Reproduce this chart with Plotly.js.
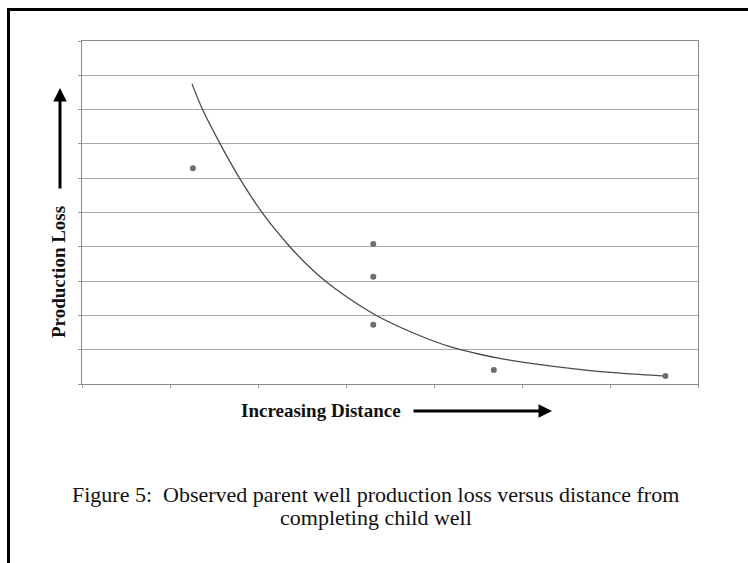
<!DOCTYPE html>
<html>
<head>
<meta charset="utf-8">
<script src="https://cdn.plot.ly/plotly-3.0.1.min.js"></script>
<style>
  html, body { margin: 0; padding: 0; background: #ffffff; }
  #wrap { position: relative; width: 748px; height: 563px; overflow: hidden; }
  #frame { position: absolute; left: 7px; top: 8px; width: 800px; height: 600px;
           border-left: 3px solid #000; border-top: 3px solid #000; pointer-events: none; }
  #chart { position: absolute; left: 0; top: 0; width: 748px; height: 563px; }
</style>
</head>
<body>
<div id="wrap">
  <div id="chart"></div>
  <div id="frame"></div>
</div>
<script>
// Observed points (distance units, production loss units)
const obsDistance = [1.26, 3.31, 3.31, 3.31, 4.68, 6.63];
const obsLoss     = [6.29, 4.08, 3.13, 1.73, 0.41, 0.23];

// Trend curve
const trendDistance = [1.25, 1.37, 1.57, 1.79, 2.06, 2.37, 2.63, 2.84, 3.33, 3.80, 4.19, 4.53, 4.76, 5.10, 5.67, 6.15, 6.63];
const trendLoss     = [8.75, 8.00, 7.00, 6.00, 4.95, 3.98, 3.30, 2.85, 2.02, 1.45, 1.08, 0.86, 0.74, 0.60, 0.42, 0.31, 0.23];

// Texts
const yTitle = "Production Loss";
const xTitle = "Increasing Distance";
const captionLine1 = "Figure 5:&nbsp; Observed parent well production loss versus distance from";
const captionLine2 = "completing child well";

const traces = [
  {
    x: trendDistance, y: trendLoss, type: "scatter", mode: "lines",
    line: { color: "#4a4a4a", width: 1.3, shape: "spline", smoothing: 0.8 },
    hoverinfo: "skip", showlegend: false
  },
  {
    x: obsDistance, y: obsLoss, type: "scatter", mode: "markers",
    marker: { color: "#6e6e6e", size: 6 },
    showlegend: false
  }
];

const serif = "Liberation Serif, Times New Roman, serif";
const boldFont = { family: serif, size: 19, color: "#111" };
const capFont = { family: serif, size: 22, color: "#111" };

const layout = {
  width: 748, height: 563,
  margin: { l: 82, r: 50, t: 41, b: 179 },
  paper_bgcolor: "#ffffff", plot_bgcolor: "#ffffff",
  xaxis: {
    range: [0, 7], dtick: 1, tick0: 0, showgrid: false, zeroline: false,
    showline: true, linecolor: "#8a8a8a", linewidth: 1, mirror: true,
    ticks: "outside", ticklen: 3, tickcolor: "#9a9a9a", showticklabels: false, fixedrange: true
  },
  yaxis: {
    range: [0, 10], dtick: 1, tick0: 0, showgrid: true, gridcolor: "#a8a8a8", gridwidth: 1,
    zeroline: false, showline: true, linecolor: "#8a8a8a", linewidth: 1, mirror: true,
    ticks: "outside", ticklen: 3, tickcolor: "#9a9a9a", showticklabels: false, fixedrange: true
  },
  annotations: [
    { xref: "paper", yref: "paper", x: -0.039, y: 0.3265, text: "<b>" + yTitle + "</b>",
      textangle: -90, showarrow: false, font: boldFont, xanchor: "center", yanchor: "middle" },
    { xref: "paper", yref: "paper", x: -0.0357, y: 0.863, ax: 0, ay: 102, axref: "pixel", ayref: "pixel",
      text: "", showarrow: true, arrowhead: 2, arrowsize: 0.9, arrowwidth: 3, arrowcolor: "#000" },
    { xref: "paper", yref: "paper", x: 0.388, y: -0.0787, text: "<b>" + xTitle + "</b>",
      showarrow: false, font: boldFont, xanchor: "center", yanchor: "middle" },
    { xref: "paper", yref: "paper", x: 0.763, y: -0.0787, ax: -140, ay: 0, axref: "pixel", ayref: "pixel",
      text: "", showarrow: true, arrowhead: 2, arrowsize: 0.9, arrowwidth: 3, arrowcolor: "#000" },
    { xref: "paper", yref: "paper", x: 0.477, y: (384 - 494) / 343, text: captionLine1, showarrow: false,
      font: capFont, xanchor: "center", yanchor: "middle" },
    { xref: "paper", yref: "paper", x: 0.477, y: (384 - 517) / 343, text: captionLine2, showarrow: false,
      font: capFont, xanchor: "center", yanchor: "middle" }
  ]
};

Plotly.newPlot("chart", traces, layout, { displayModeBar: false, staticPlot: true });
</script>
</body>
</html>
